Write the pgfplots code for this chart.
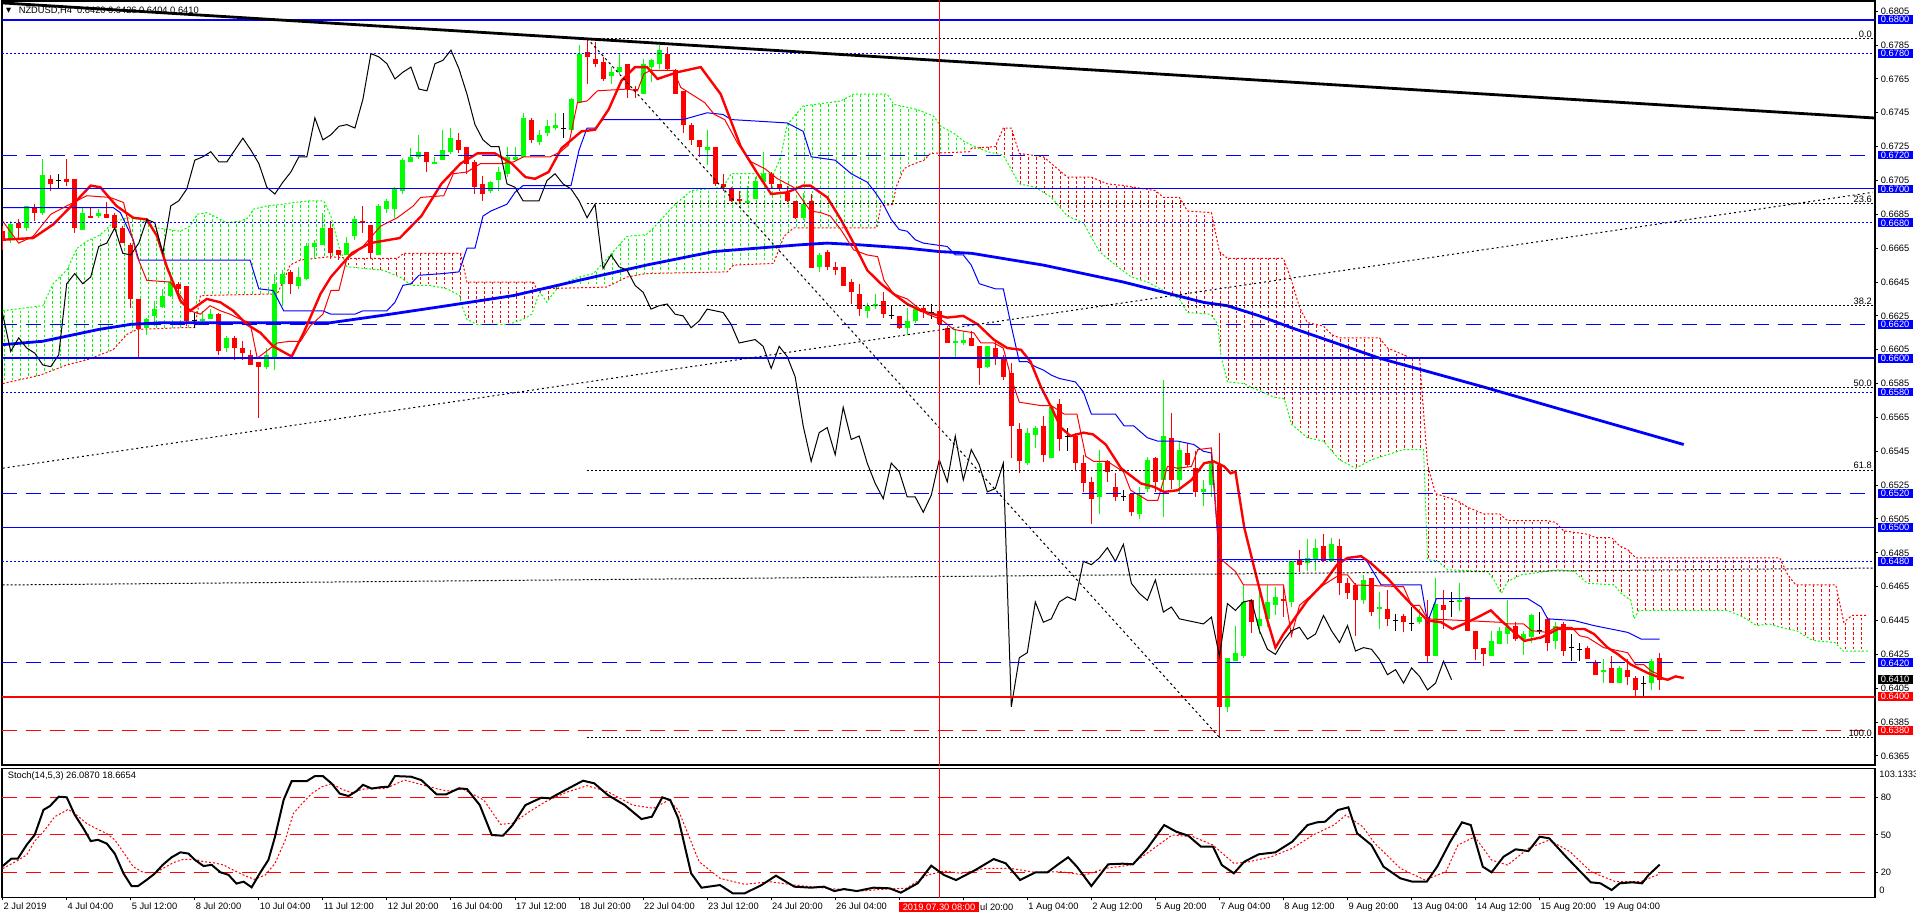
\documentclass[border=0pt]{standalone}
\usepackage{fontspec}
\setmainfont{Liberation Sans}
\newfontfamily\dejavu{DejaVu Sans}
\usepackage{pgfplots}
\usepackage{pgfplotstable}
\pgfplotsset{compat=1.18}
\usetikzlibrary{patterns}

\definecolor{mg}{RGB}{0,255,0}
\definecolor{mr}{RGB}{255,0,0}
\definecolor{mb}{RGB}{0,0,255}
\newcommand\lab{\fontsize{4.65}{5}\selectfont}

\pgfdeclarepatternformonly{vdash}{\pgfqpoint{0pt}{0pt}}{\pgfqpoint{4pt}{2.4pt}}{\pgfqpoint{4.0025pt}{2.4pt}}{%
\pgfsetlinewidth{0.5pt}\pgfpathmoveto{\pgfqpoint{2pt}{0pt}}\pgfpathlineto{\pgfqpoint{2pt}{1.3pt}}\pgfusepath{stroke}}

\pgfplotstableread{
b o h l c
0 0.6675 0.6678 0.6664 0.6670
1 0.6670 0.6681 0.6668 0.6679
2 0.6680 0.6682 0.6671 0.6677
3 0.6677 0.6690 0.6675 0.6690
4 0.6689 0.6691 0.6681 0.6686
5 0.6686 0.6718 0.6685 0.6708
6 0.6706 0.6708 0.6699 0.6703
7 0.6705 0.6709 0.6700 0.6705
8 0.6706 0.6718 0.6702 0.6704
9 0.6706 0.6706 0.6674 0.6677
10 0.6676 0.6689 0.6676 0.6686
11 0.6684 0.6689 0.6683 0.6683
12 0.6684 0.6688 0.6683 0.6686
13 0.6685 0.6692 0.6683 0.6683
14 0.6685 0.6686 0.6676 0.6677
15 0.6677 0.6678 0.6668 0.6668
16 0.6667 0.6668 0.6630 0.6635
17 0.6635 0.6635 0.6600 0.6617
18 0.6618 0.6624 0.6614 0.6623
19 0.6625 0.6634 0.6619 0.6629
20 0.6630 0.6641 0.6630 0.6637
21 0.6637 0.6651 0.6636 0.6645
22 0.6644 0.6645 0.6635 0.6641
23 0.6643 0.6643 0.6619 0.6622
24 0.6622 0.6627 0.6618 0.6622
25 0.6622 0.6628 0.6621 0.6623
26 0.6623 0.6629 0.6623 0.6626
27 0.6626 0.6627 0.6602 0.6604
28 0.6606 0.6613 0.6604 0.6612
29 0.6612 0.6613 0.6599 0.6606
30 0.6606 0.6610 0.6599 0.6603
31 0.6602 0.6605 0.6596 0.6596
32 0.6598 0.6598 0.6565 0.6595
33 0.6595 0.6606 0.6594 0.6602
34 0.6601 0.6650 0.6593 0.6644
35 0.6644 0.6652 0.6631 0.6650
36 0.6651 0.6652 0.6638 0.6644
37 0.6643 0.6654 0.6641 0.6648
38 0.6647 0.6668 0.6646 0.6666
39 0.6666 0.6670 0.6659 0.6668
40 0.6667 0.6686 0.6667 0.6677
41 0.6677 0.6681 0.6659 0.6662
42 0.6664 0.6664 0.6658 0.6661
43 0.6661 0.6672 0.6661 0.6668
44 0.6672 0.6684 0.6670 0.6682
45 0.6681 0.6690 0.6674 0.6680
46 0.6679 0.6679 0.6659 0.6662
47 0.6661 0.6691 0.6661 0.6690
48 0.6688 0.6694 0.6686 0.6693
49 0.6688 0.6701 0.6683 0.6700
50 0.6699 0.6718 0.6697 0.6717
51 0.6716 0.6724 0.6716 0.6719
52 0.6719 0.6732 0.6718 0.6722
53 0.6722 0.6722 0.6710 0.6716
54 0.6715 0.6719 0.6715 0.6716
55 0.6717 0.6735 0.6717 0.6723
56 0.6722 0.6736 0.6721 0.6730
57 0.6729 0.6733 0.6721 0.6723
58 0.6725 0.6725 0.6709 0.6715
59 0.6716 0.6717 0.6697 0.6701
60 0.6703 0.6708 0.6693 0.6697
61 0.6699 0.6705 0.6698 0.6704
62 0.6705 0.6713 0.6699 0.6710
63 0.6709 0.6725 0.6707 0.6719
64 0.6717 0.6725 0.6717 0.6719
65 0.6719 0.6745 0.6719 0.6742
66 0.6741 0.6742 0.6727 0.6729
67 0.6728 0.6735 0.6726 0.6732
68 0.6733 0.6741 0.6731 0.6737
69 0.6736 0.6745 0.6735 0.6738
70 0.6736 0.6745 0.6730 0.6736
71 0.6735 0.6754 0.6735 0.6753
72 0.6751 0.6785 0.6751 0.6780
73 0.6781 0.6789 0.6762 0.6778
74 0.6777 0.6787 0.6772 0.6774
75 0.6775 0.6778 0.6764 0.6765
76 0.6767 0.6772 0.6762 0.6769
77 0.6769 0.6780 0.6768 0.6772
78 0.6774 0.6774 0.6754 0.6759
79 0.6759 0.6761 0.6754 0.6758
80 0.6756 0.6777 0.6756 0.6774
81 0.6772 0.6777 0.6763 0.6776
82 0.6774 0.6785 0.6771 0.6782
83 0.6780 0.6784 0.6770 0.6771
84 0.6770 0.6771 0.6756 0.6756
85 0.6758 0.6758 0.6733 0.6738
86 0.6738 0.6739 0.6726 0.6729
87 0.6729 0.6729 0.6719 0.6725
88 0.6723 0.6735 0.6714 0.6725
89 0.6725 0.6725 0.6702 0.6703
90 0.6703 0.6709 0.6699 0.6701
91 0.6700 0.6701 0.6692 0.6693
92 0.6694 0.6699 0.6691 0.6693
93 0.6692 0.6702 0.6691 0.6693
94 0.6694 0.6707 0.6694 0.6705
95 0.6704 0.6722 0.6703 0.6709
96 0.6709 0.6710 0.6700 0.6703
97 0.6703 0.6703 0.6699 0.6700
98 0.6698 0.6702 0.6692 0.6693
99 0.6693 0.6693 0.6682 0.6683
100 0.6683 0.6698 0.6682 0.6691
101 0.6693 0.6697 0.6653 0.6653
102 0.6654 0.6662 0.6651 0.6661
103 0.6663 0.6664 0.6652 0.6654
104 0.6654 0.6657 0.6649 0.6652
105 0.6654 0.6654 0.6643 0.6643
106 0.6645 0.6647 0.6632 0.6639
107 0.6638 0.6644 0.6625 0.6629
108 0.6628 0.6633 0.6624 0.6631
109 0.6631 0.6638 0.6629 0.6632
110 0.6634 0.6639 0.6624 0.6626
111 0.6625 0.6631 0.6623 0.6625
112 0.6625 0.6625 0.6617 0.6618
113 0.6618 0.6630 0.6614 0.6622
114 0.6622 0.6630 0.6621 0.6629
115 0.6630 0.6631 0.6624 0.6628
116 0.6627 0.6632 0.6623 0.6627
117 0.6628 0.6629 0.6619 0.6620
118 0.6618 0.6619 0.6609 0.6609
119 0.6609 0.6617 0.6600 0.6610
120 0.6609 0.6616 0.6608 0.6611
121 0.6612 0.6616 0.6607 0.6607
122 0.6607 0.6607 0.6584 0.6594
123 0.6595 0.6607 0.6594 0.6607
124 0.6606 0.6611 0.6596 0.6601
125 0.6601 0.6602 0.6587 0.6589
126 0.6591 0.6597 0.6541 0.6560
127 0.6558 0.6562 0.6532 0.6539
128 0.6538 0.6559 0.6537 0.6556
129 0.6555 0.6560 0.6547 0.6559
130 0.6560 0.6566 0.6539 0.6543
131 0.6541 0.6572 0.6541 0.6571
132 0.6573 0.6576 0.6545 0.6552
133 0.6554 0.6559 0.6545 0.6554
134 0.6554 0.6556 0.6534 0.6538
135 0.6538 0.6543 0.6521 0.6526
136 0.6527 0.6530 0.6502 0.6517
137 0.6518 0.6546 0.6508 0.6538
138 0.6539 0.6540 0.6527 0.6533
139 0.6524 0.6532 0.6516 0.6518
140 0.6518 0.6522 0.6516 0.6518
141 0.6520 0.6520 0.6507 0.6509
142 0.6508 0.6524 0.6505 0.6519
143 0.6523 0.6542 0.6521 0.6540
144 0.6541 0.6542 0.6521 0.6527
145 0.6528 0.6587 0.6506 0.6554
146 0.6553 0.6568 0.6523 0.6528
147 0.6528 0.6551 0.6520 0.6546
148 0.6544 0.6550 0.6536 0.6537
149 0.6535 0.6545 0.6518 0.6521
150 0.6521 0.6528 0.6513 0.6523
151 0.6525 0.6544 0.6518 0.6538
152 0.6537 0.6556 0.6376 0.6394
153 0.6394 0.6423 0.6391 0.6423
154 0.6421 0.6442 0.6421 0.6426
155 0.6424 0.6466 0.6423 0.6456
156 0.6457 0.6458 0.6438 0.6444
157 0.6442 0.6466 0.6437 0.6446
158 0.6446 0.6466 0.6441 0.6456
159 0.6454 0.6465 0.6448 0.6459
160 0.6458 0.6465 0.6447 0.6457
161 0.6456 0.6480 0.6453 0.6480
162 0.6481 0.6487 0.6474 0.6478
163 0.6479 0.6493 0.6474 0.6482
164 0.6481 0.6493 0.6474 0.6488
165 0.6489 0.6496 0.6480 0.6480
166 0.6480 0.6494 0.6480 0.6490
167 0.6489 0.6493 0.6460 0.6467
168 0.6467 0.6470 0.6458 0.6461
169 0.6466 0.6467 0.6436 0.6457
170 0.6457 0.6472 0.6455 0.6469
171 0.6470 0.6470 0.6448 0.6450
172 0.6452 0.6462 0.6440 0.6453
173 0.6452 0.6463 0.6442 0.6446
174 0.6445 0.6449 0.6439 0.6445
175 0.6448 0.6449 0.6438 0.6444
176 0.6443 0.6453 0.6439 0.6443
177 0.6444 0.6452 0.6443 0.6447
178 0.6447 0.6457 0.6420 0.6424
179 0.6424 0.6470 0.6424 0.6455
180 0.6454 0.6463 0.6440 0.6451
181 0.6456 0.6462 0.6447 0.6456
182 0.6456 0.6467 0.6451 0.6457
183 0.6459 0.6459 0.6439 0.6439
184 0.6439 0.6439 0.6422 0.6428
185 0.6429 0.6429 0.6418 0.6425
186 0.6424 0.6439 0.6424 0.6433
187 0.6431 0.6441 0.6431 0.6439
188 0.6437 0.6457 0.6431 0.6441
189 0.6442 0.6444 0.6433 0.6434
190 0.6434 0.6439 0.6425 0.6437
191 0.6435 0.6449 0.6432 0.6448
192 0.6439 0.6450 0.6437 0.6439
193 0.6446 0.6447 0.6427 0.6432
194 0.6433 0.6444 0.6428 0.6442
195 0.6443 0.6444 0.6424 0.6427
196 0.6429 0.6437 0.6421 0.6429
197 0.6428 0.6432 0.6421 0.6428
198 0.6429 0.6430 0.6422 0.6422
199 0.6420 0.6422 0.6413 0.6413
200 0.6415 0.6422 0.6408 0.6416
201 0.6417 0.6424 0.6408 0.6408
202 0.6408 0.6418 0.6408 0.6417
203 0.6416 0.6422 0.6407 0.6412
204 0.6411 0.6412 0.6400 0.6404
205 0.6408 0.6412 0.6400 0.6408
206 0.6408 0.6422 0.6404 0.6421
207 0.6423 0.6426 0.6404 0.6410
}\candles

\begin{document}
\begin{tikzpicture}[x=1pt,y=1pt]
\useasboundingbox (0,0) rectangle (958,459);
\fill[white] (0,0) rectangle (958,459);

\begin{axis}[
  at={(1pt,76.5pt)}, anchor=south west,
  scale only axis, width=936.5pt, height=382pt,
  xmin=-0.0874, xmax=233.9, ymin=0.635964, ymax=0.681105,
  axis line style={black, line width=0.6pt},
  xtick=\empty,
  ytick={0.6365,0.6385,0.6405,0.6425,0.6445,0.6465,0.6485,0.6505,0.6525,0.6545,0.6565,0.6585,0.6605,0.6625,0.6645,0.6665,0.6685,0.6705,0.6725,0.6745,0.6765,0.6785,0.6805},
  yticklabels={0.6365,0.6385,0.6405,0.6425,0.6445,0.6465,0.6485,0.6505,0.6525,0.6545,0.6565,0.6585,0.6605,0.6625,0.6645,0.6665,0.6685,0.6705,0.6725,0.6745,0.6765,0.6785,0.6805},
  scaled y ticks=false,
  ytick pos=right, yticklabel pos=right,
  tick align=outside, major tick length=1.5pt,
  tick style={black, line width=0.5pt},
  yticklabel style={font=\lab, anchor=west, inner sep=0pt, xshift=1.2pt},
]
% ---- Ichimoku cloud hatch: span A forward, span B backward, per colour segment
\addplot[draw=none, pattern=vdash, pattern color=mg] coordinates {
(0,0.6628) (5,0.6631) (6.3,0.6644) (8,0.6652) (9.3,0.6665) (10.5,0.6669) (12.2,0.6673) (13.8,0.6680) (15.5,0.6683) (17.2,0.6682) (19.3,0.6677) (22.2,0.6675) (23.4,0.6678) (24.3,0.6685) (25.5,0.6686) (26.8,0.6683) (28,0.6680) (29.7,0.6681) (30.7,0.6683) (31.3,0.6688) (33,0.6690) (35.1,0.6691) (36.3,0.6692) (38.4,0.6693) (40.1,0.6693) (41,0.6684) (42,0.6666) (42.5,0.6660)
(40.9,0.6660) (37.2,0.6658) (35.9,0.6655) (35.1,0.6646) (34.3,0.6638) (24.7,0.6637) (24,0.6618) (22.2,0.6618) (16.8,0.6617) (15.5,0.6614) (13.8,0.6605) (10.5,0.6599) (8,0.6596) (4.7,0.6590) (0,0.6585)};
\addplot[draw=none, pattern=vdash, pattern color=mr] coordinates {
(42.5,0.6660) (43,0.6654) (47.5,0.6652) (49.6,0.6648) (51.1,0.6643) (53.4,0.6643) (55.5,0.6641) (57.1,0.6637) (57.3,0.6632) (58,0.6623) (59.2,0.6620) (63.2,0.6620) (65,0.6623) (66.1,0.6626) (66.7,0.6634) (67.1,0.6639) (68,0.6633) (68.4,0.6636) (69.4,0.6642)
(66.7,0.6641) (66.3,0.6645) (58,0.6645) (57.2,0.6662) (50.1,0.6662) (49.3,0.6659) (43.4,0.6659)};
\addplot[draw=none, pattern=vdash, pattern color=mg] coordinates {
(69.4,0.6642) (70.4,0.6645) (72.1,0.6648) (73.8,0.6650) (75.9,0.6661) (78,0.6672) (80.4,0.6673) (81.3,0.6677) (83.8,0.6690) (86,0.6699) (90,0.6701) (91,0.6709) (96.3,0.6709) (97.2,0.6719) (98,0.6738) (100,0.6749) (104.7,0.6752) (106.3,0.6756) (110.5,0.6756) (111.3,0.6750) (114.2,0.6747) (116.3,0.6743) (117.2,0.6737) (118.8,0.6733) (120.1,0.6728) (121,0.6726) (121.7,0.6725)
(121.7,0.6724) (121,0.6724) (120.8,0.6722) (115.9,0.6721) (115.1,0.6717) (113.4,0.6714) (112.6,0.6712) (111.6,0.6701) (111.2,0.6691) (109.7,0.6690) (109.2,0.6677) (98.8,0.6677) (97.6,0.6672) (96.3,0.6656) (91.3,0.6655) (90.5,0.6651) (80.4,0.6650) (78,0.6648) (76.3,0.6644) (75.4,0.6642)};
\addplot[draw=none, pattern=vdash, pattern color=mr] coordinates {
(121.7,0.6725) (123,0.6722) (125,0.6720) (127,0.6703) (129,0.6701) (131,0.6695) (133,0.6684) (135,0.6680) (137,0.6663) (139,0.6655) (141,0.6648) (143,0.6645) (145,0.6640) (147,0.6635) (148,0.6627) (150.9,0.6626) (151.8,0.6620) (152.2,0.6601) (153,0.6586) (155.1,0.6585) (155.9,0.6583) (158.8,0.6577) (160.1,0.6576) (161,0.6561) (163,0.6553) (165,0.6551) (167,0.6540) (169,0.6535) (171,0.6540) (173,0.6543) (175,0.6546) (177.5,0.6546) (178,0.6481) (179.3,0.6480) (180.5,0.6475) (185.5,0.6474) (186.3,0.6469) (187.2,0.6461) (188,0.6468) (189.7,0.6472) (194.3,0.6475) (196.3,0.6474) (197.2,0.6470) (198,0.6467) (201.3,0.6466) (202.2,0.6461) (203.4,0.6457) (203.8,0.6446) (204.4,0.6451) (215.4,0.6451) (217,0.6448) (217.8,0.6446) (219.1,0.6442) (220.7,0.6443) (222.9,0.6440) (224.1,0.6439) (225.8,0.6434) (226.6,0.6433) (228.9,0.6432) (229.9,0.6427) (233,0.6427)
(233,0.6448) (231,0.6448) (230,0.6444) (229,0.6466) (224,0.6466) (223,0.6472) (222,0.6482) (204,0.6482) (203,0.6487) (202,0.6489) (201,0.6494) (199,0.6494) (198,0.6496) (195,0.6498) (194,0.6503) (193,0.6504) (188,0.6504) (187,0.6508) (185,0.6508) (184,0.6510) (183,0.6512) (182,0.6515) (181,0.6517) (179,0.6520) (178,0.6537) (177,0.6600) (176,0.6600) (175,0.6602) (173,0.6606) (172,0.6612) (167,0.6612) (166,0.6614) (165,0.6619) (163,0.6621) (162,0.6630) (161,0.6646) (160,0.6659) (153,0.6659) (152,0.6663) (151,0.6686) (148,0.6687) (147,0.6695) (145,0.6695) (144,0.6699) (140,0.6702) (138,0.6703) (136,0.6707) (133,0.6707) (132,0.6711) (130,0.6719) (127,0.6721) (126,0.6736) (125,0.6736) (124,0.6725)};
% ---- Ichimoku cloud boundary lines
\addplot[mg, line width=0.5pt, dash pattern=on 1pt off 1pt] coordinates {
(0,0.6628) (5,0.6631) (6.3,0.6644) (8,0.6652) (9.3,0.6665) (10.5,0.6669) (12.2,0.6673) (13.8,0.6680) (15.5,0.6683) (17.2,0.6682) (19.3,0.6677) (22.2,0.6675) (23.4,0.6678) (24.3,0.6685) (25.5,0.6686) (26.8,0.6683) (28,0.6680) (29.7,0.6681) (30.7,0.6683) (31.3,0.6688) (33,0.6690) (35.1,0.6691) (36.3,0.6692) (38.4,0.6693) (40.1,0.6693) (41,0.6684) (42,0.6666) (43,0.6654) (47.5,0.6652) (49.6,0.6648) (51.1,0.6643) (53.4,0.6643) (55.5,0.6641) (57.1,0.6637) (57.3,0.6632) (58,0.6623) (59.2,0.6620) (63.2,0.6620) (65,0.6623) (66.1,0.6626) (66.7,0.6634) (67.1,0.6639) (68,0.6633) (68.4,0.6636) (69.4,0.6642) (70.4,0.6645) (72.1,0.6648) (73.8,0.6650) (75.9,0.6661) (78,0.6672) (80.4,0.6673) (81.3,0.6677) (83.8,0.6690) (86,0.6699) (90,0.6701) (91,0.6709) (96.3,0.6709) (97.2,0.6719) (98,0.6738) (100,0.6749) (104.7,0.6752) (106.3,0.6756) (110.5,0.6756) (111.3,0.6750) (114.2,0.6747) (116.3,0.6743) (117.2,0.6737) (118.8,0.6733) (120.1,0.6728) (121,0.6726) (123,0.6722) (125,0.6720) (127,0.6703) (129,0.6701) (131,0.6695) (133,0.6684) (135,0.6680) (137,0.6663) (139,0.6655) (141,0.6648) (143,0.6645) (145,0.6640) (147,0.6635) (148,0.6627) (150.9,0.6626) (151.8,0.6620) (152.2,0.6601) (153,0.6586) (155.1,0.6585) (155.9,0.6583) (158.8,0.6577) (160.1,0.6576) (161,0.6561) (163,0.6553) (165,0.6551) (167,0.6540) (169,0.6535) (171,0.6540) (173,0.6543) (175,0.6546) (177.5,0.6546) (178,0.6481) (179.3,0.6480) (180.5,0.6475) (185.5,0.6474) (186.3,0.6469) (187.2,0.6461) (188,0.6468) (189.7,0.6472) (194.3,0.6475) (196.3,0.6474) (197.2,0.6470) (198,0.6467) (201.3,0.6466) (202.2,0.6461) (203.4,0.6457) (203.8,0.6446) (204.4,0.6451) (215.4,0.6451) (217,0.6448) (217.8,0.6446) (219.1,0.6442) (220.7,0.6443) (222.9,0.6440) (224.1,0.6439) (225.8,0.6434) (226.6,0.6433) (228.9,0.6432) (229.9,0.6427) (233,0.6427)};
\addplot[mr, line width=0.5pt, dash pattern=on 1pt off 1pt] coordinates {
(0,0.6585) (4.7,0.6590) (8,0.6596) (10.5,0.6599) (13.8,0.6605) (15.5,0.6614) (16.8,0.6617) (22.2,0.6618) (24,0.6618) (24.7,0.6637) (34.3,0.6638) (35.1,0.6646) (35.9,0.6655) (37.2,0.6658) (40.9,0.6660) (43.4,0.6659) (49.3,0.6659) (50.1,0.6662) (57.2,0.6662) (58,0.6645) (66.3,0.6645) (66.7,0.6641) (75.4,0.6642) (76.3,0.6644) (78,0.6648) (80.4,0.6650) (90.5,0.6651) (91.3,0.6655) (96.3,0.6656) (97.6,0.6672) (98.8,0.6677) (109.2,0.6677) (109.7,0.6690) (111.2,0.6691) (111.6,0.6701) (112.6,0.6712) (113.4,0.6714) (115.1,0.6717) (115.9,0.6721) (120.8,0.6722) (121,0.6724) (124,0.6725) (125,0.6736) (126,0.6736) (127,0.6721) (130,0.6719) (132,0.6711) (133,0.6707) (136,0.6707) (138,0.6703) (140,0.6702) (144,0.6699) (145,0.6695) (147,0.6695) (148,0.6687) (151,0.6686) (152,0.6663) (153,0.6659) (160,0.6659) (161,0.6646) (162,0.6630) (163,0.6621) (165,0.6619) (166,0.6614) (167,0.6612) (172,0.6612) (173,0.6606) (175,0.6602) (176,0.6600) (177,0.6600) (178,0.6537) (179,0.6520) (181,0.6517) (182,0.6515) (183,0.6512) (184,0.6510) (185,0.6508) (187,0.6508) (188,0.6504) (193,0.6504) (194,0.6503) (195,0.6498) (198,0.6496) (199,0.6494) (201,0.6494) (202,0.6489) (203,0.6487) (204,0.6482) (222,0.6482) (223,0.6472) (224,0.6466) (229,0.6466) (230,0.6444) (231,0.6448) (233,0.6448)};

% ---- candles: wicks
\addplot[draw=none, mark=none, restrict expr to domain={\thisrow{c}-\thisrow{o}}{0.00005:1},
  error bars/.cd, y dir=both, y explicit, error mark=none, error bar style={mg, line width=0.5pt}]
  table[x=b, y expr={(\thisrow{h}+\thisrow{l})/2}, y error expr={(\thisrow{h}-\thisrow{l})/2}] {\candles};
\addplot[draw=none, mark=none, restrict expr to domain={\thisrow{o}-\thisrow{c}}{0.00005:1},
  error bars/.cd, y dir=both, y explicit, error mark=none, error bar style={mr, line width=0.5pt}]
  table[x=b, y expr={(\thisrow{h}+\thisrow{l})/2}, y error expr={(\thisrow{h}-\thisrow{l})/2}] {\candles};
\addplot[draw=none, mark=none, restrict expr to domain={abs(\thisrow{c}-\thisrow{o})}{0:0.00005},
  error bars/.cd, y dir=both, y explicit, error mark=none, error bar style={black, line width=0.5pt}]
  table[x=b, y expr={(\thisrow{h}+\thisrow{l})/2}, y error expr={(\thisrow{h}-\thisrow{l})/2}] {\candles};
% ---- candles: bodies
\addplot[draw=none, mark=none, restrict expr to domain={\thisrow{c}-\thisrow{o}}{0.00005:1},
  error bars/.cd, y dir=both, y explicit, error mark=none, error bar style={mg, line width=2.5pt}]
  table[x=b, y expr={(\thisrow{o}+\thisrow{c})/2}, y error expr={abs(\thisrow{c}-\thisrow{o})/2}] {\candles};
\addplot[draw=none, mark=none, restrict expr to domain={\thisrow{o}-\thisrow{c}}{0.00005:1},
  error bars/.cd, y dir=both, y explicit, error mark=none, error bar style={mr, line width=2.5pt}]
  table[x=b, y expr={(\thisrow{o}+\thisrow{c})/2}, y error expr={abs(\thisrow{c}-\thisrow{o})/2}] {\candles};
\addplot[only marks, mark=-, mark size=1.25pt, mark options={black, line width=0.5pt},
  restrict expr to domain={abs(\thisrow{c}-\thisrow{o})}{0:0.00005}]
  table[x=b, y=c] {\candles};

% ---- blue MA (thick)
\addplot[mb, line width=1.4pt] coordinates {
(0,0.6608) (5,0.6610) (8,0.6613) (12,0.6617) (16,0.6620) (20,0.6621) (41,0.6621) (47,0.6625) (55.5,0.6631) (63.8,0.6637) (72,0.6646) (80.4,0.6655) (88.8,0.6663) (99.6,0.6667) (103,0.6668) (107,0.6667) (113,0.6665) (117,0.6663) (121,0.6662) (130,0.6655) (140,0.6645) (150,0.6633) (153,0.6631) (157,0.6625) (161,0.6618) (172,0.6600) (185,0.6583) (194.5,0.6570) (210,0.6549)};
% ---- kijun (thin blue)
\addplot[mb, line width=0.5pt] coordinates {
(0,0.6689) (13.8,0.6689) (14.7,0.6686) (15.5,0.6678) (16.3,0.6670) (17,0.6658) (30.9,0.6658) (32,0.6641) (33.8,0.6640) (35.1,0.6628) (40,0.6628) (41,0.6626) (44,0.6626) (45,0.6628) (48,0.6628) (49,0.6633) (50,0.6643) (51,0.6644) (52,0.6649) (55,0.6650) (57,0.6651) (58,0.6665) (59,0.6665) (60,0.6684) (61,0.6687) (62,0.6689) (63,0.6691) (64,0.6698) (65,0.6702) (71,0.6702) (72,0.6723) (73,0.6736) (74,0.6736) (75,0.6741) (85,0.6741) (88,0.6745) (90,0.6744) (91,0.6741) (98,0.6739) (100,0.6734) (101,0.6719) (104,0.6717) (106,0.6709) (108,0.6704) (109,0.6698) (110,0.6691) (111,0.6682) (112,0.6676) (113,0.6675) (114,0.6670) (115,0.6668) (118,0.6666) (119,0.6661) (120,0.6661) (121,0.6655) (122,0.6644) (124,0.6641) (125,0.6641) (126,0.6619) (127,0.6598) (128,0.6598) (129,0.6595) (130,0.6593) (131,0.6590) (132,0.6588) (134,0.6586) (135,0.6580) (136,0.6567) (139,0.6567) (140.1,0.6560) (141.3,0.6560) (143,0.6553) (144.3,0.6551) (146.8,0.6551) (148.8,0.6549) (150,0.6545) (151,0.6544) (152,0.6481) (170.3,0.6481) (172.2,0.6466) (177.2,0.6466) (178,0.6444) (179.1,0.6458) (190.5,0.6458) (192.2,0.6453) (193,0.6446) (196.3,0.6445) (198.8,0.6442) (203,0.6438) (204.7,0.6434) (207,0.6434)};
% ---- tenkan (thin red)
\addplot[mr, line width=0.5pt] coordinates {
(0,0.6681) (2,0.6668) (3.8,0.6672) (6,0.6685) (8,0.6690) (10.5,0.6696) (13.4,0.6695) (15.1,0.6692) (15.7,0.6680) (16.8,0.6660) (18,0.6646) (20.9,0.6645) (22.2,0.6637) (23.4,0.6628) (24.7,0.6626) (25.9,0.6631) (27.2,0.6628) (28.4,0.6626) (29.7,0.6623) (30.9,0.6621) (31.8,0.6600) (34.3,0.6609) (35.9,0.6610) (37.2,0.6610) (38.4,0.6619) (40,0.6626) (41,0.6640) (42,0.6640) (43,0.6659) (44,0.6662) (45,0.6666) (47.2,0.6678) (49.3,0.6683) (51.3,0.6690) (52.2,0.6695) (55.1,0.6696) (56.3,0.6709) (58,0.6710) (59.7,0.6715) (62.4,0.6715) (63.8,0.6716) (65.1,0.6719) (68.4,0.6719) (69.7,0.6722) (70.7,0.6726) (71.8,0.6751) (73,0.6752) (74.3,0.6758) (78,0.6759) (79.3,0.6758) (80.1,0.6768) (80.9,0.6770) (83.8,0.6770) (84.7,0.6760) (87.7,0.6751) (88.9,0.6744) (90.2,0.6741) (91.8,0.6727) (93.5,0.6716) (95.2,0.6712) (96.8,0.6706) (98.8,0.6701) (100.9,0.6687) (102.2,0.6686) (103.4,0.6684) (104.7,0.6676) (106.3,0.6664) (108,0.6661) (109.3,0.6660) (110.1,0.6646) (111.3,0.6638) (113,0.6635) (114.3,0.6630) (115.5,0.6626) (117.2,0.6623) (118.8,0.6617) (120,0.6616) (121.3,0.6615) (122.2,0.6609) (123.8,0.6609) (125,0.6606) (126,0.6588) (127,0.6574) (129.7,0.6572) (131,0.6572) (132.6,0.6567) (134.2,0.6567) (135.3,0.6542) (136.3,0.6539) (138,0.6539) (140,0.6533) (140.9,0.6522) (143,0.6516) (144.3,0.6516) (145.5,0.6536) (146.8,0.6535) (148.5,0.6536) (149.3,0.6546) (151,0.6547) (152,0.6482) (154,0.6474) (155,0.6466) (160,0.6466) (161,0.6436) (162,0.6454) (163,0.6458) (165,0.6466) (167,0.6472) (168,0.6472) (169,0.6466) (175,0.6465) (176,0.6454) (177,0.6454) (178,0.6446) (187,0.6444) (188,0.6443) (190,0.6443) (191,0.6439) (193,0.6438) (194,0.6441) (196,0.6441) (197,0.6436) (198,0.6435) (199,0.6432) (200,0.6429) (201,0.6428) (203,0.6426) (204,0.6419) (205,0.6419) (206,0.6415) (207,0.6413)};
% ---- red MA (thick)
\addplot[mr, line width=1.2pt] coordinates {
(0,0.6670) (3.8,0.6671) (6.3,0.6679) (8.8,0.6691) (11,0.6702) (12.2,0.6701) (14.2,0.6690) (16.3,0.6683) (18,0.6682) (19.3,0.6672) (20.5,0.6654) (22.2,0.6634) (23.4,0.6628) (25.5,0.6635) (27.2,0.6633) (28.8,0.6628) (30.5,0.6620) (32.2,0.6615) (33.8,0.6607) (36.1,0.6601) (37.6,0.6615) (39.7,0.6638) (41,0.6648) (43.6,0.6662) (45.9,0.6668) (49.6,0.6671) (52.3,0.6684) (54.8,0.6703) (57.2,0.6715) (59.3,0.6721) (61.5,0.6721) (63.6,0.6715) (65.3,0.6707) (66.5,0.6706) (68.2,0.6710) (69.8,0.6724) (72.3,0.6734) (74,0.6735) (75.7,0.6747) (77.3,0.6764) (79,0.6772) (80.5,0.6772) (81.8,0.6765) (84.3,0.6769) (87.2,0.6772) (89.7,0.6756) (92.2,0.6725) (94.3,0.6709) (96,0.6697) (98,0.6698) (100,0.6702) (100.9,0.6702) (103,0.6695) (104.7,0.6682) (106.3,0.6668) (108,0.6652) (109.7,0.6644) (111.3,0.6638) (113,0.6632) (114.7,0.6628) (116.3,0.6626) (118,0.6624) (120,0.6625) (121.8,0.6620) (123.8,0.6611) (125.5,0.6606) (127.2,0.6605) (128.4,0.6598) (129.7,0.6583) (131,0.6571) (132.2,0.6559) (133.4,0.6554) (135,0.6556) (136.2,0.6555) (137.8,0.6549) (139.7,0.6535) (142.2,0.6526) (143.8,0.6524) (145.1,0.6521) (146.8,0.6522) (148.5,0.6528) (150.1,0.6538) (151.3,0.6539) (152.6,0.6536) (153.4,0.6532) (154,0.6533) (155.1,0.6500) (156.3,0.6477) (158,0.6445) (159,0.6429) (160,0.6437) (160.9,0.6443) (163,0.6457) (165,0.6467) (166.7,0.6478) (168,0.6482) (169.7,0.6483) (170.9,0.6479) (173,0.6470) (174.3,0.6463) (176.3,0.6453) (178,0.6445) (179.7,0.6444) (181.1,0.6440) (183,0.6444) (184.7,0.6448) (185.9,0.6451) (187.2,0.6445) (188.8,0.6438) (190.1,0.6433) (192.2,0.6435) (194.3,0.6440) (196,0.6440) (197.6,0.6440) (198.8,0.6437) (200.5,0.6429) (201.8,0.6425) (203.4,0.6419) (205.5,0.6414) (207.2,0.6411) (208,0.6410) (209,0.6412) (210,0.6411)};
% ---- chikou span (close shifted back 26 bars)
\addplot[black, line width=0.5pt] table[x expr=\thisrow{b}-26, y=c] {\candles};

% ---- horizontal levels
\addplot[mb, line width=0.85pt] coordinates {(-1,0.6800) (235,0.6800)};
\addplot[mb, line width=0.5pt] coordinates {(-1,0.6700) (235,0.6700)};
\addplot[mb, line width=0.85pt] coordinates {(-1,0.6600) (235,0.6600)};
\addplot[mb, line width=0.5pt] coordinates {(-1,0.6500) (235,0.6500)};
\addplot[mb, line width=0.5pt, dash pattern=on 7.75pt off 4.25pt] coordinates {(-0.1,0.6720) (233.6,0.6720)};
\addplot[mb, line width=0.5pt, dash pattern=on 7.75pt off 4.25pt] coordinates {(-0.1,0.6620) (233.6,0.6620)};
\addplot[mb, line width=0.5pt, dash pattern=on 7.75pt off 4.25pt] coordinates {(-0.1,0.6520) (233.6,0.6520)};
\addplot[mb, line width=0.5pt, dash pattern=on 7.75pt off 4.25pt] coordinates {(-0.1,0.6420) (233.6,0.6420)};
\addplot[mb, line width=0.5pt, dash pattern=on 1pt off 1pt] coordinates {(-0.1,0.6780) (233.6,0.6780)};
\addplot[mb, line width=0.5pt, dash pattern=on 1pt off 1pt] coordinates {(-0.1,0.6680) (233.6,0.6680)};
\addplot[mb, line width=0.5pt, dash pattern=on 1pt off 1pt] coordinates {(-0.1,0.6580) (233.6,0.6580)};
\addplot[mb, line width=0.5pt, dash pattern=on 1pt off 1pt] coordinates {(-0.1,0.6480) (233.6,0.6480)};
\addplot[mr, line width=1pt] coordinates {(-1,0.6400) (235,0.6400)};
\addplot[mr, line width=0.5pt, dash pattern=on 7.75pt off 4.25pt] coordinates {(-0.1,0.6380) (233.6,0.6380)};

% ---- Fibonacci retracement
\addplot[black, line width=0.5pt, dash pattern=on 1pt off 1pt] coordinates {(73,0.6789) (233.7,0.6789)};
\addplot[black, line width=0.5pt, dash pattern=on 1pt off 1pt] coordinates {(73,0.66915) (233.7,0.66915)};
\addplot[black, line width=0.5pt, dash pattern=on 1pt off 1pt] coordinates {(73,0.66312) (233.7,0.66312)};
\addplot[black, line width=0.5pt, dash pattern=on 1pt off 1pt] coordinates {(73,0.65825) (233.7,0.65825)};
\addplot[black, line width=0.5pt, dash pattern=on 1pt off 1pt] coordinates {(73,0.65338) (233.7,0.65338)};
\addplot[black, line width=0.5pt, dash pattern=on 1pt off 1pt] coordinates {(73,0.6376) (233.7,0.6376)};
\addplot[black, line width=0.5pt, dash pattern=on 1.2pt off 1.5pt] coordinates {(73,0.6789) (152,0.6376)};
\node[font=\lab, anchor=south east, inner sep=0.4pt] at (axis cs:233.65,0.6789) {0.0};
\node[font=\lab, anchor=south east, inner sep=0.4pt] at (axis cs:233.65,0.66915) {23.6};
\node[font=\lab, anchor=south east, inner sep=0.4pt] at (axis cs:233.65,0.66312) {38.2};
\node[font=\lab, anchor=south east, inner sep=0.4pt] at (axis cs:233.65,0.65825) {50.0};
\node[font=\lab, anchor=south east, inner sep=0.4pt] at (axis cs:233.65,0.65338) {61.8};
\node[font=\lab, anchor=south east, inner sep=0.4pt] at (axis cs:233.65,0.6376) {100.0};

% ---- trend lines
\addplot[black, line width=1.4pt] coordinates {(-0.34,0.6810) (233.9,0.67419)};
\addplot[black, line width=0.5pt, dash pattern=on 1pt off 1.5pt] coordinates {(0,0.6535) (233.6,0.6698)};
\addplot[black, line width=0.5pt, dash pattern=on 1pt off 1pt] coordinates {(0,0.6466) (233.6,0.6476)};

% ---- vertical marker
\addplot[mr, line width=0.5pt] coordinates {(117,0.63) (117,0.69)};

% ---- anchors for price labels
\coordinate (q6800) at (axis cs:233.9,0.6800);
\coordinate (q6780) at (axis cs:233.9,0.6780);
\coordinate (q6720) at (axis cs:233.9,0.6720);
\coordinate (q6700) at (axis cs:233.9,0.6700);
\coordinate (q6680) at (axis cs:233.9,0.6680);
\coordinate (q6620) at (axis cs:233.9,0.6620);
\coordinate (q6600) at (axis cs:233.9,0.6600);
\coordinate (q6580) at (axis cs:233.9,0.6580);
\coordinate (q6520) at (axis cs:233.9,0.6520);
\coordinate (q6500) at (axis cs:233.9,0.6500);
\coordinate (q6480) at (axis cs:233.9,0.6480);
\coordinate (q6420) at (axis cs:233.9,0.6420);
\coordinate (q6410) at (axis cs:233.9,0.6410);
\coordinate (q6400) at (axis cs:233.9,0.6400);
\coordinate (q6380) at (axis cs:233.9,0.6380);
\end{axis}

\begin{axis}[
  at={(1pt,10.35pt)}, anchor=south west,
  scale only axis, width=936.5pt, height=64.45pt,
  xmin=-0.0874, xmax=233.9, ymin=0, ymax=103.1333,
  axis line style={black, line width=0.6pt},
  xtick={0,8,...,200},
  xticklabels={2 Jul 2019,4 Jul 04:00,5 Jul 12:00,8 Jul 20:00,10 Jul 04:00,11 Jul 12:00,12 Jul 20:00,16 Jul 04:00,17 Jul 12:00,18 Jul 20:00,22 Jul 04:00,23 Jul 12:00,24 Jul 20:00,26 Jul 04:00,{},{},1 Aug 04:00,2 Aug 12:00,5 Aug 20:00,7 Aug 04:00,8 Aug 12:00,9 Aug 20:00,13 Aug 04:00,14 Aug 12:00,15 Aug 20:00,19 Aug 04:00},
  xtick pos=left,
  ytick={20,50,80}, yticklabels={20,50,80},
  ytick pos=right, yticklabel pos=right,
  tick align=outside, major tick length=1.5pt,
  tick style={black, line width=0.5pt},
  xticklabel style={font=\lab, anchor=north west, inner sep=0pt, xshift=0.3pt, yshift=-1.2pt},
  yticklabel style={font=\lab, anchor=west, inner sep=0pt, xshift=1.2pt},
]
\addplot[mr, line width=0.5pt, dash pattern=on 7.75pt off 4.25pt] coordinates {(-0.1,80) (233.6,80)};
\addplot[mr, line width=0.5pt, dash pattern=on 7.75pt off 4.25pt] coordinates {(-0.1,50) (233.6,50)};
\addplot[mr, line width=0.5pt, dash pattern=on 7.75pt off 4.25pt] coordinates {(-0.1,20) (233.6,20)};
\addplot[mr, line width=0.5pt] coordinates {(117,-5) (117,110)};
% %D
\addplot[mr, line width=0.5pt, dash pattern=on 1pt off 1pt] coordinates {
(0,23) (1.9,29.5) (3,34) (4,45) (5.1,52.5) (6.5,64.5) (8.2,70.4) (9.2,66) (10.5,59) (11.7,55) (13,51) (14,46) (15.3,34) (16.3,24.5) (17.6,19.7) (19,19.7) (20,23) (21.3,27.7) (22.6,30.4) (24,30.4) (25.1,28.5) (26.3,27.7) (27.6,25.8) (28.8,21.8) (30.1,17.8) (31.4,14.4) (32.8,17.8) (34,27) (35.3,45.8) (36.3,67) (37.4,75) (38.6,83) (39.9,88.5) (41.1,91) (42.4,86.4) (43.6,83.7) (44.9,86.4) (46.1,87) (47.8,87) (50.2,93.8) (53.3,88.5) (55.4,85) (57.5,86.6) (60.1,77.8) (62.2,58.4) (63.7,59.2) (65.8,68.5) (67.8,76.5) (70.4,84) (73,89.3) (75.6,84.5) (78.7,73.8) (81.3,71.2) (83.2,77.8) (84.4,69.8) (85.5,52.5) (87,28.5) (89.6,15.2) (92.7,10.4) (95.8,12.5) (98.9,9.8) (103.1,7.2) (107.2,5) (110.3,6.6) (112.9,7.2) (115.5,17.8) (117.6,21) (119.7,19.2) (122.8,23.2) (125.9,23.2) (129,19.9) (132.1,20.5) (135.2,17.8) (137.8,23.2) (140.9,25.8) (143.5,37.8) (146.1,49.8) (148.7,48.5) (151.2,41.8) (153.8,27.2) (155.4,28) (158.5,32.5) (161.1,39.2) (163.7,49.8) (166.3,57.8) (167.8,65.8) (169.9,56.5) (171.4,43.2) (174.6,23.2) (177.7,13.8) (180.3,20.5) (181.8,41.8) (183.9,48.5) (186,29.8) (188,25.8) (190.6,39.2) (193.2,45.8) (195.8,36.5) (198.4,20.5) (201.5,12.5) (204.6,12.5) (207,18.7)};
% %K
\addplot[black, line width=1pt] coordinates {
(0,25) (1.1,31) (1.9,31) (3,42) (4,50) (5.1,70) (5.9,73) (7,80.5) (8,80) (9,66) (10.1,55) (11,45) (11.9,46) (13,43) (14,35) (15.1,19) (16.1,9) (16.9,9) (18,14) (19,19) (20,26) (21.1,32) (22.2,36) (23.2,35) (24,30) (25.1,25) (26.1,26) (27.2,20) (28.2,18) (29.2,11) (30.1,12.5) (31.1,8) (32.1,19) (33.2,30) (34,48) (35.1,78) (36.1,93) (38,93) (39,97) (40,97) (41.1,91) (42.1,83) (43.2,81) (44.2,85) (45,90) (46.1,87) (47.1,88) (48.2,88.5) (49,97) (51,96.5) (52.3,93.8) (54.2,82.4) (55.4,82.4) (57,87.2) (58,86.6) (59.6,73.8) (61.1,49.8) (62.5,49.3) (63.7,57.8) (65.3,73.8) (67.3,79.7) (68.4,79.2) (69.9,84.5) (72.5,93.3) (73.9,91.2) (75.6,81.8) (77.7,73.8) (79.8,62.6) (81.1,64.5) (82.4,80) (83.4,77.8) (84.4,63.2) (86,19.2) (87.3,7.7) (89.6,9.8) (91.2,3.2) (92.7,3.2) (94.8,9.8) (96.6,17.3) (98.9,8.5) (101,7.7) (102.6,8.5) (103.9,5) (105.1,6.6) (106.7,5) (108.8,7.7) (110.8,7.2) (112.2,3.7) (114.3,11.2) (116,25.3) (117.6,17.8) (119.1,13.8) (121.5,21.8) (123.8,30.6) (125.3,27.2) (127.1,13.8) (129,19.9) (130.5,19.9) (131.9,26.6) (133.1,32) (134.2,24.5) (136,9) (138.1,26.4) (139.9,26.9) (141.2,26.4) (143,39.2) (145.1,57.8) (146.6,52.5) (148.1,49.3) (149.7,40.5) (151.2,40.5) (152.3,25.8) (153.8,19.2) (155.1,28.5) (156.9,34.4) (159,36) (161.1,44.5) (163,57.8) (164.2,60) (165.2,60.5) (166.8,69.8) (168.1,72) (169.2,51.2) (171,41.8) (172.5,24.5) (174.6,15.2) (176.1,12.5) (177.9,12.5) (179.2,24.5) (180.8,44) (182.3,60) (183.4,57.8) (184.9,24.5) (186,20) (187.5,32.5) (189,38.4) (190.6,37) (192,48.5) (193.2,47.2) (195.3,32.5) (197.1,20.5) (198.4,12) (199.6,11.2) (201,5.8) (202,11.2) (203.6,12) (204.8,11.2) (205.6,17.8) (207,26.1)};
\coordinate (datebase) at (axis cs:117,0);
\end{axis}

% ---- price labels on the right scale
\tikzset{plab/.style={anchor=west, font=\lab, text=white, inner xsep=1.6pt, inner ysep=0pt, minimum height=4.4pt, xshift=1.15pt}}
\node[plab, fill=mb] at (q6800) {0.6800};
\node[plab, fill=mb] at (q6780) {0.6780};
\node[plab, fill=mb] at (q6720) {0.6720};
\node[plab, fill=mb] at (q6700) {0.6700};
\node[plab, fill=mb] at (q6680) {0.6680};
\node[plab, fill=mb] at (q6620) {0.6620};
\node[plab, fill=mb] at (q6600) {0.6600};
\node[plab, fill=mb] at (q6580) {0.6580};
\node[plab, fill=mb] at (q6520) {0.6520};
\node[plab, fill=mb] at (q6500) {0.6500};
\node[plab, fill=mb] at (q6480) {0.6480};
\node[plab, fill=mb] at (q6420) {0.6420};
\node[plab, fill=black] at (q6410) {0.6410};
\node[plab, fill=mr] at (q6400) {0.6400};
\node[plab, fill=mr] at (q6380) {0.6380};

% ---- texts
\node[font=\dejavu\fontsize{3.3}{4}\selectfont, inner sep=0pt] at (4.3pt,453.8pt) {▼};
\node[font=\lab, anchor=west, inner sep=0pt] at (9.2pt,453.6pt) {NZDUSD,H4\ \ 0.6420 0.6426 0.6404 0.6410};
\node[font=\lab, anchor=west, inner sep=0pt] at (3.7pt,71pt) {Stoch(14,5,3) 26.0870 18.6654};
\node[font=\lab, anchor=west, inner sep=0pt] at (939.5pt,72pt) {103.1333};
\node[font=\lab, anchor=west, inner sep=0pt] at (939.5pt,14pt) {0};
\node[font=\lab, fill=mr, text=white, inner xsep=1.9pt, inner ysep=0pt, minimum height=5pt, name=datebox] at (469.5pt,5.5pt) {2019.07.30 08:00};
\node[font=\lab, anchor=west, inner sep=0pt] at ([xshift=0.2pt]datebox.east |- 0,5.6) {ul 20:00};
\end{tikzpicture}
\end{document}
